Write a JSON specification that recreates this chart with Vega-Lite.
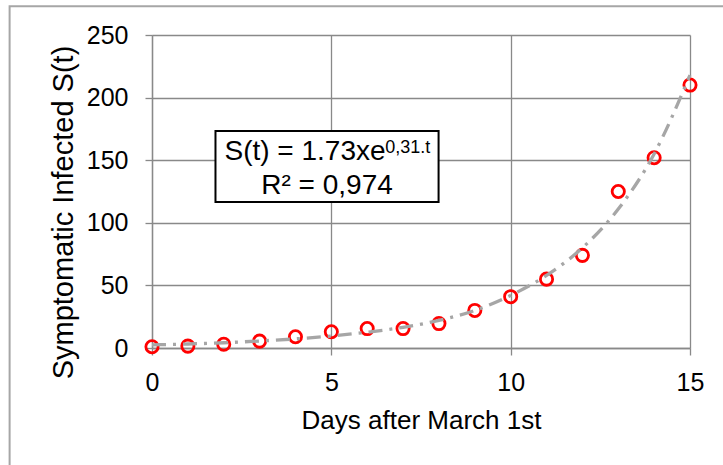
{
  "$schema": "https://vega.github.io/schema/vega-lite/v6.json",
  "width": 538,
  "height": 313,
  "autosize": {"type": "none"},
  "padding": {"left": 152, "top": 35, "right": 33, "bottom": 117},
  "background": "white",
  "config": {
    "view": {"stroke": null},
    "font": "Liberation Sans",
    "axis": {
      "grid": true,
      "gridColor": "#898989",
      "gridWidth": 1.3,
      "domainColor": "#898989",
      "domainWidth": 1.3,
      "tickColor": "#898989",
      "tickWidth": 1.3,
      "tickSize": 7,
      "labelFont": "Liberation Sans",
      "labelFontSize": 25,
      "labelColor": "#000000",
      "labelFlush": false,
      "labelOverlap": false,
      "titleFont": "Liberation Sans",
      "titleFontWeight": "normal",
      "titleColor": "#000000"
    }
  },
  "datasets": {
    "obs": [
      {"day": 0, "infected": 1},
      {"day": 1, "infected": 1.5},
      {"day": 2, "infected": 3},
      {"day": 3, "infected": 5.5},
      {"day": 4, "infected": 9},
      {"day": 5, "infected": 13},
      {"day": 6, "infected": 15.5},
      {"day": 7, "infected": 15.5},
      {"day": 8, "infected": 19.5},
      {"day": 9, "infected": 30},
      {"day": 10, "infected": 41},
      {"day": 11, "infected": 55},
      {"day": 12, "infected": 74},
      {"day": 13, "infected": 125},
      {"day": 14, "infected": 152},
      {"day": 15, "infected": 210}
    ],
    "trend": [
      {"day": 0, "fit": 2.5},
      {"day": 1, "fit": 3.2},
      {"day": 2, "fit": 4.2},
      {"day": 3, "fit": 5.6},
      {"day": 4, "fit": 7.3},
      {"day": 5, "fit": 9.6},
      {"day": 6, "fit": 12.6},
      {"day": 7, "fit": 16.5},
      {"day": 8, "fit": 22},
      {"day": 9, "fit": 30},
      {"day": 10, "fit": 42},
      {"day": 11, "fit": 58},
      {"day": 12, "fit": 80},
      {"day": 13, "fit": 111},
      {"day": 14, "fit": 155},
      {"day": 15, "fit": 218}
    ]
  },
  "layer": [
    {
      "data": {"name": "obs"},
      "mark": {"type": "point", "shape": "circle", "filled": false, "color": "#ff0000", "strokeWidth": 2.8, "size": 150, "opacity": 1},
      "encoding": {
        "x": {
          "field": "day",
          "type": "quantitative",
          "scale": {"domain": [0, 15], "nice": false},
          "axis": {
            "title": "Days after March 1st",
            "values": [0, 5, 10, 15],
            "labelPadding": 15,
            "titleFontSize": 26,
            "titleBaseline": "alphabetic",
            "titleX": 269,
            "titleY": 80
          }
        },
        "y": {
          "field": "infected",
          "type": "quantitative",
          "scale": {"domain": [0, 250], "nice": false},
          "axis": {
            "title": "Symptomatic Infected S(t)",
            "values": [0, 50, 100, 150, 200, 250],
            "labelPadding": 17,
            "titleFontSize": 29,
            "titleAngle": -90,
            "titleAlign": "center",
            "titleBaseline": "alphabetic",
            "titleX": -80,
            "titleY": 177
          }
        }
      }
    },
    {
      "data": {"values": [{}]},
      "mark": {"type": "rect", "fill": "transparent", "fillOpacity": 0, "stroke": "#a6a6a6", "strokeWidth": 2},
      "encoding": {
        "x": {"datum": -3.97, "type": "quantitative", "scale": {"domain": [0, 15], "nice": false}},
        "x2": {"datum": 20},
        "y": {"datum": 272.9, "type": "quantitative", "scale": {"domain": [0, 250], "nice": false}},
        "y2": {"datum": -150}
      }
    },
    {
      "data": {"name": "trend"},
      "mark": {"type": "line", "color": "#a6a6a6", "strokeWidth": 3.3, "strokeDash": [14, 7, 3, 7], "interpolate": "monotone"},
      "encoding": {
        "x": {"field": "day", "type": "quantitative", "scale": {"domain": [0, 15], "nice": false}},
        "y": {"field": "fit", "type": "quantitative", "scale": {"domain": [0, 250], "nice": false}}
      }
    },
    {
      "data": {"values": [{}]},
      "mark": {"type": "rect", "fill": "white", "stroke": "black", "strokeWidth": 2},
      "encoding": {
        "x": {"datum": 1.77, "type": "quantitative", "scale": {"domain": [0, 15], "nice": false}},
        "x2": {"datum": 7.99},
        "y": {"datum": 173.3, "type": "quantitative", "scale": {"domain": [0, 250], "nice": false}},
        "y2": {"datum": 116.6}
      }
    },
    {
      "data": {"values": [{}]},
      "mark": {"type": "text", "text": "S(t) = 1.73xe", "fontSize": 28, "align": "left", "baseline": "alphabetic", "color": "black", "font": "Liberation Sans"},
      "encoding": {
        "x": {"datum": 2.02, "type": "quantitative", "scale": {"domain": [0, 15], "nice": false}},
        "y": {"datum": 149.9, "type": "quantitative", "scale": {"domain": [0, 250], "nice": false}}
      }
    },
    {
      "data": {"values": [{}]},
      "mark": {"type": "text", "text": "0,31.t", "fontSize": 18, "align": "left", "baseline": "alphabetic", "color": "black", "font": "Liberation Sans"},
      "encoding": {
        "x": {"datum": 6.5, "type": "quantitative", "scale": {"domain": [0, 15], "nice": false}},
        "y": {"datum": 155.5, "type": "quantitative", "scale": {"domain": [0, 250], "nice": false}}
      }
    },
    {
      "data": {"values": [{}]},
      "mark": {"type": "text", "text": "R² = 0,974", "fontSize": 28, "align": "center", "baseline": "alphabetic", "color": "black", "font": "Liberation Sans"},
      "encoding": {
        "x": {"datum": 4.88, "type": "quantitative", "scale": {"domain": [0, 15], "nice": false}},
        "y": {"datum": 122.8, "type": "quantitative", "scale": {"domain": [0, 250], "nice": false}}
      }
    }
  ]
}
